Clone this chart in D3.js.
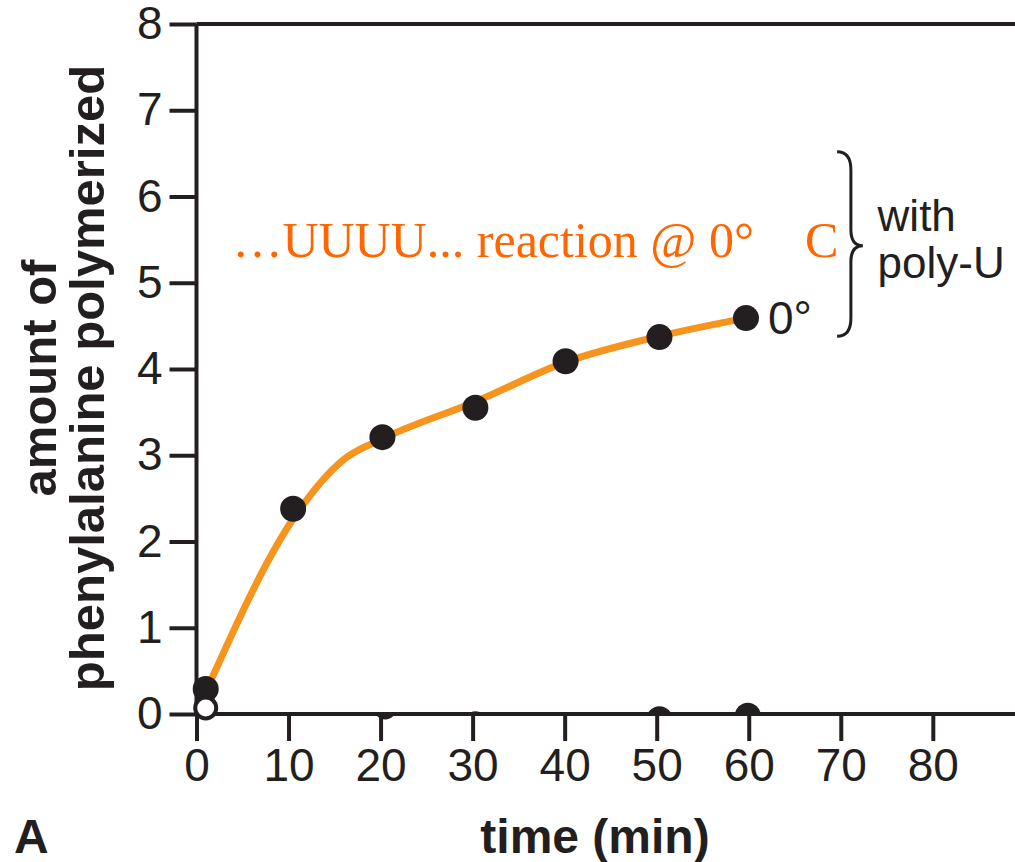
<!DOCTYPE html>
<html>
<head>
<meta charset="utf-8">
<script src="https://cdn.jsdelivr.net/npm/d3@7"></script>
<style>
  html, body { margin: 0; padding: 0; background: #fff; }
  svg { display: block; }
</style>
</head>
<body>
<svg id="chart" width="1015" height="862"></svg>
<script>
// ---- data ----
const timeMin   = [1, 10.5, 20.2, 30.3, 40.1, 50.3, 59.7];
const withPolyU = [0.29, 2.38, 3.21, 3.55, 4.09, 4.37, 4.59];
const openTime  = [1];
const openValue = [0.07];
const curveTime  = [1.2, 10.5, 16, 20.2, 30.3, 40.1, 50.3, 59.7];
const curveValue = [0.3, 2.26, 2.95, 3.19, 3.62, 4.08, 4.38, 4.59];
// partially erased control points near zero
const ctrlTime   = [30.3, 50.3, 59.9];
const ctrlValue  = [-0.12, -0.06, -0.02];
const ctrlOpenTime  = [20.5];
const ctrlOpenValue = [0.07];
const xTicks = [0, 10, 20, 30, 40, 50, 60, 70, 80];
const yTicks = [0, 1, 2, 3, 4, 5, 6, 7, 8];

const ink = "#231f20";
const orange = "#F7941D";
const orangeText = "#FF6600";

const svg = d3.select("#chart");
const x = d3.scaleLinear().domain([0, 88.93]).range([196.5, 1015]);
const y = d3.scaleLinear().domain([0, 8]).range([714, 24]);

// clip paths for the erased control marks
const defs = svg.append("defs");
defs.append("clipPath").attr("id", "above").append("rect")
  .attr("x", 0).attr("y", 0).attr("width", 1015).attr("height", y(0) - 2);
defs.append("clipPath").attr("id", "below").append("rect")
  .attr("x", 0).attr("y", y(0)).attr("width", 1015).attr("height", 12);

// control marks (mostly hidden)
svg.append("g").attr("clip-path", "url(#above)")
  .selectAll("circle").data(ctrlTime).join("circle")
  .attr("cx", (d) => x(d)).attr("cy", (d, i) => y(ctrlValue[i]))
  .attr("r", 13).attr("fill", ink);
svg.append("g").attr("clip-path", "url(#below)")
  .selectAll("circle").data(ctrlOpenTime).join("circle")
  .attr("cx", (d) => x(d)).attr("cy", (d, i) => y(ctrlOpenValue[i]))
  .attr("r", 9.5).attr("fill", "#fff").attr("stroke", ink).attr("stroke-width", 4);

const sans = "'Liberation Sans', Arial, sans-serif";

// axes
const xAxis = d3.axisBottom(x).tickValues(xTicks).tickSize(27).tickPadding(7)
  .tickFormat(d3.format("d"));
const gx = svg.append("g").attr("transform", `translate(0,${y(0)})`).call(xAxis);
gx.select(".domain").attr("d", `M${x(0)},0H1015`).attr("stroke", ink).attr("stroke-width", 4);
gx.selectAll(".tick line").attr("stroke", ink).attr("stroke-width", 4);
gx.selectAll(".tick text").attr("fill", ink)
  .style("font-family", sans).style("font-size", "46px");

const yAxis = d3.axisLeft(y).tickValues(yTicks).tickSize(27).tickPadding(7)
  .tickFormat(d3.format("d"));
const gy = svg.append("g").attr("transform", `translate(${x(0)},0)`).call(yAxis);
gy.select(".domain").attr("d", `M0,${y(8)}V${y(0)}`).attr("stroke", ink).attr("stroke-width", 4);
gy.selectAll(".tick line").attr("stroke", ink).attr("stroke-width", 4);
gy.selectAll(".tick text").attr("fill", ink)
  .style("font-family", sans).style("font-size", "46px");

// top frame line
svg.append("line").attr("x1", x(0)).attr("x2", 1015).attr("y1", y(8)).attr("y2", y(8))
  .attr("stroke", ink).attr("stroke-width", 4);

// fitted curve
const curvePts = curveTime.map((t, i) => [t, curveValue[i]]);
svg.append("path").datum(curvePts)
  .attr("d", d3.line().x((d) => x(d[0])).y((d) => y(d[1])).curve(d3.curveMonotoneX))
  .attr("fill", "none").attr("stroke", orange).attr("stroke-width", 7)
  .attr("stroke-linecap", "round");

// filled points
svg.append("g").selectAll("circle").data(timeMin).join("circle")
  .attr("cx", (d) => x(d)).attr("cy", (d, i) => y(withPolyU[i]))
  .attr("r", 13).attr("fill", ink);

// open point
svg.append("g").selectAll("circle").data(openTime).join("circle")
  .attr("cx", (d) => x(d)).attr("cy", (d, i) => y(openValue[i]))
  .attr("r", 10.5).attr("fill", "#fff").attr("stroke", ink).attr("stroke-width", 4);

// annotations
svg.append("text").attr("x", x(59.7) + 22).attr("y", y(4.59) + 16)
  .attr("fill", ink).style("font-family", sans).style("font-size", "46px").text("0°");

svg.append("text").attr("x", x(3.9)).attr("y", y(5.3))
  .attr("fill", orangeText).style("font-family", "'Liberation Serif', 'Times New Roman', serif")
  .style("font-size", "50px").text("…UUUU... reaction @ 0°");
svg.append("text").attr("x", x(66.1)).attr("y", y(5.3))
  .attr("fill", orangeText).style("font-family", "'Liberation Serif', 'Times New Roman', serif")
  .style("font-size", "50px").text("C");

// brace
const bx0 = x(69.6), bx1 = x(71.1), bx2 = x(72.4);
const bTop = y(6.52), bMid = y(5.43), bBot = y(4.38);
svg.append("path")
  .attr("d", `M${bx0},${bTop} Q${bx1},${bTop} ${bx1},${bTop + 18} L${bx1},${bMid - 16} Q${bx1},${bMid} ${bx2},${bMid} Q${bx1},${bMid} ${bx1},${bMid + 16} L${bx1},${bBot - 18} Q${bx1},${bBot} ${bx0},${bBot}`)
  .attr("fill", "none").attr("stroke", ink).attr("stroke-width", 3);

svg.append("text").attr("x", x(74)).attr("y", y(5.6))
  .attr("fill", ink).style("font-family", sans).style("font-size", "44px").text("with");
svg.append("text").attr("x", x(74)).attr("y", y(5.05))
  .attr("fill", ink).style("font-family", sans).style("font-size", "44px").text("poly-U");

// axis titles
svg.append("text").attr("x", 595).attr("y", 853).attr("text-anchor", "middle")
  .attr("fill", ink).style("font-family", sans).style("font-weight", "bold")
  .style("font-size", "48px").text("time (min)");
svg.append("text").attr("x", 14).attr("y", 853)
  .attr("fill", ink).style("font-family", sans).style("font-weight", "bold")
  .style("font-size", "48px").text("A");

const yt = svg.append("text").attr("transform", "translate(0,378) rotate(-90)")
  .attr("text-anchor", "middle").attr("fill", ink)
  .style("font-family", sans).style("font-weight", "bold").style("font-size", "49px");
yt.append("tspan").attr("x", 0).attr("y", 56).text("amount of");
yt.append("tspan").attr("x", 0).attr("y", 104).text("phenylalanine polymerized");
</script>
</body>
</html>
